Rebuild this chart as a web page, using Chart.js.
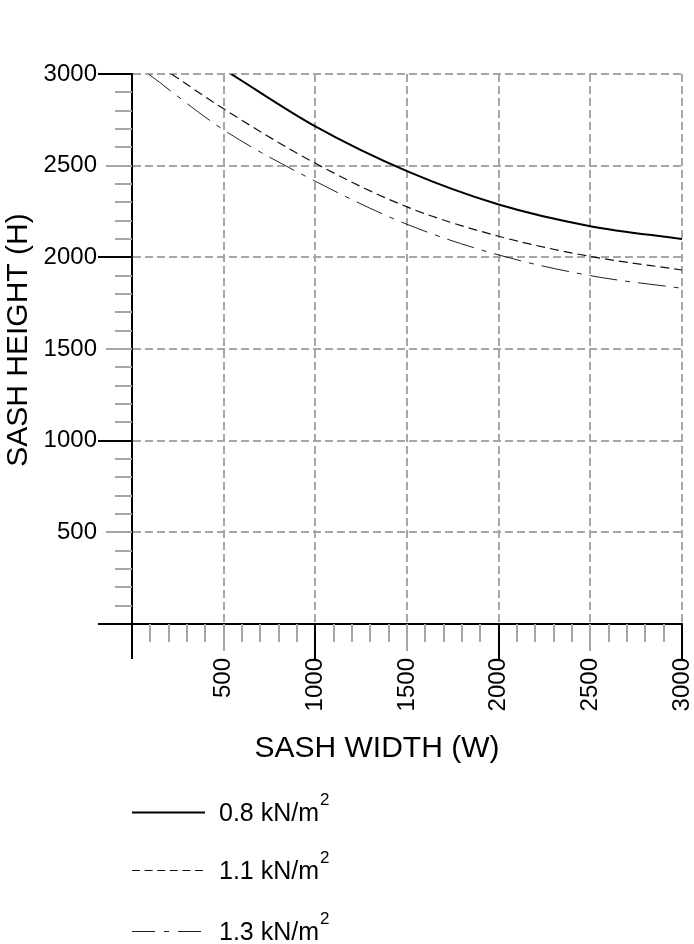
<!DOCTYPE html>
<html>
<head>
<meta charset="utf-8">
<script src="https://cdn.jsdelivr.net/npm/chart.js@4.4.1/dist/chart.umd.min.js"></script>
<style>
    html, body { margin: 0; padding: 0; background: #fff; }
    #wrap { width: 694px; height: 944px; }
</style>
</head>
<body>
<div id="wrap"><canvas id="sashChart" width="694" height="944"></canvas></div>
<script>
// tick labels on both axes
const widthTicks = [500, 1000, 1500, 2000, 2500, 3000];
const heightTicks = [500, 1000, 1500, 2000, 2500, 3000];

const seriesLabels = ['0.8 kN/m', '1.1 kN/m', '1.3 kN/m'];

// 0.8 kN/m2
const width08 = [540, 1000, 1500, 2000, 2500, 3000];
const height08 = [3000, 2714, 2470, 2288, 2170, 2100];
// 1.1 kN/m2
const width11 = [215, 500, 1000, 1500, 2000, 2500, 3000];
const height11 = [3000, 2810, 2513, 2275, 2115, 2005, 1931];
// 1.3 kN/m2
const width13 = [90, 500, 1000, 1500, 2000, 2500, 3000];
const height13 = [3000, 2695, 2415, 2180, 2013, 1900, 1831];

const FONT = '"Liberation Sans", Arial, Helvetica, sans-serif';
const gridGrey = '#a6a6a6';

function toPoints(xs, ys) {
    return xs.map((x, i) => ({ x, y: ys[i] }));
}

// minor / major tick marks drawn outside the plot, plus axis titles and legend
const decorPlugin = {
    id: 'decor',
    afterDraw(chart) {
        const { ctx, scales: { x, y } } = chart;
        const x0 = x.getPixelForValue(0);
        const y0 = y.getPixelForValue(0);
        ctx.save();
        ctx.lineWidth = 2;

        for (let v = 0; v <= 3000; v += 100) {
            let len = 17, col = gridGrey;
            if (v % 1000 === 0) { len = 34; col = '#000'; }
            else if (v % 500 === 0) { len = 26; col = gridGrey; }

            // y axis ticks (to the left)
            const py = Math.round(y.getPixelForValue(v));
            ctx.strokeStyle = col;
            ctx.beginPath();
            ctx.moveTo(x0 - len, py);
            ctx.lineTo(x0, py);
            ctx.stroke();

            // x axis ticks (downwards)
            const px = Math.round(x.getPixelForValue(v));
            ctx.beginPath();
            ctx.moveTo(px, y0);
            ctx.lineTo(px, y0 + len + 1);
            ctx.stroke();
        }

        // axis titles
        ctx.fillStyle = '#000';
        ctx.font = '30px ' + FONT;
        ctx.textAlign = 'center';
        ctx.textBaseline = 'alphabetic';
        ctx.fillText('SASH WIDTH (W)', 377, 757);

        ctx.save();
        ctx.translate(27, 340);
        ctx.rotate(-Math.PI / 2);
        ctx.fillText('SASH HEIGHT (H)', 0, 0);
        ctx.restore();

        // legend
        const rows = [812, 870, 931];
        const legendDash = [[], [8, 4.6], [23, 9, 5, 9]];
        chart.data.datasets.forEach((ds, i) => {
            const ly = rows[i];
            ctx.save();
            ctx.strokeStyle = ds.borderColor;
            ctx.lineWidth = ds.borderWidth;
            ctx.setLineDash(legendDash[i]);
            ctx.beginPath();
            ctx.moveTo(132, ly + 0.5);
            ctx.lineTo(205, ly + 0.5);
            ctx.stroke();
            ctx.restore();

            ctx.textAlign = 'left';
            ctx.font = '25px ' + FONT;
            ctx.fillText(ds.label, 219, ly + 9);
            const w = ctx.measureText(ds.label).width;
            ctx.font = '17px ' + FONT;
            ctx.fillText('2', 219 + w + 1, ly - 7);
        });
        ctx.restore();
    }
};

const gridColor = (c) => (c.tick && c.tick.value > 0 ? gridGrey : 'rgba(0,0,0,0)');

new Chart(document.getElementById('sashChart').getContext('2d'), {
    type: 'line',
    data: {
        datasets: [
            {
                label: seriesLabels[0],
                data: toPoints(width08, height08),
                borderColor: '#000',
                borderWidth: 2,
                pointRadius: 0,
                cubicInterpolationMode: 'monotone'
            },
            {
                label: seriesLabels[1],
                data: toPoints(width11, height11),
                borderColor: '#111',
                borderWidth: 1.2,
                borderDash: [9, 5],
                pointRadius: 0,
                cubicInterpolationMode: 'monotone'
            },
            {
                label: seriesLabels[2],
                data: toPoints(width13, height13),
                borderColor: '#222',
                borderWidth: 1,
                borderDash: [28, 8, 5, 8],
                pointRadius: 0,
                cubicInterpolationMode: 'monotone'
            }
        ]
    },
    options: {
        responsive: false,
        animation: false,
        devicePixelRatio: 1,
        layout: { padding: { top: 74, right: 12, left: 0, bottom: 0 } },
        plugins: { legend: { display: false }, tooltip: { enabled: false } },
        scales: {
            x: {
                type: 'linear',
                min: 0,
                max: 3000,
                afterBuildTicks: (s) => { s.ticks = widthTicks.map((v) => ({ value: v })); },
                afterFit: (s) => { s.height = 320; s.paddingLeft = 0; s.paddingRight = 0; },
                grid: { color: gridColor, lineWidth: 2, drawTicks: false },
                border: { display: true, color: '#000', width: 2, dash: [8, 4] },
                ticks: {
                    color: '#000',
                    font: { family: FONT, size: 24 },
                    padding: 34,
                    minRotation: 90,
                    maxRotation: 90,
                    autoSkip: false,
                    callback: (v) => String(v)
                }
            },
            y: {
                type: 'linear',
                min: 0,
                max: 3000,
                afterBuildTicks: (s) => { s.ticks = heightTicks.map((v) => ({ value: v })); },
                afterFit: (s) => { s.width = 132; s.paddingTop = 0; s.paddingBottom = 0; },
                grid: { color: gridColor, lineWidth: 2, drawTicks: false },
                border: { display: true, color: '#000', width: 2, dash: [8, 4] },
                ticks: {
                    color: '#000',
                    font: { family: FONT, size: 24 },
                    padding: 35,
                    autoSkip: false,
                    callback: (v) => String(v)
                }
            }
        }
    },
    plugins: [decorPlugin]
});
</script>
</body>
</html>
